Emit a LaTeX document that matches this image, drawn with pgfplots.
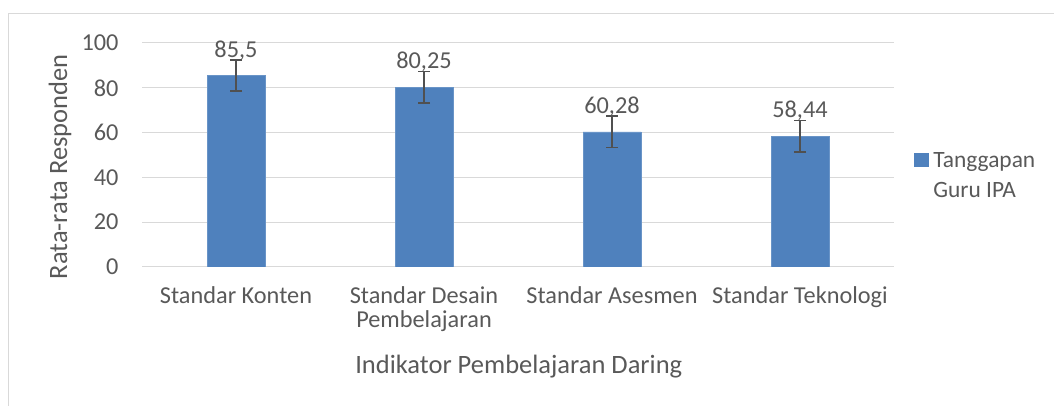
\documentclass[border=0pt]{standalone}
\usepackage{pgfplots}
\pgfplotsset{compat=1.18}
\usepackage{fontspec}
\setmainfont{Carlito}
\definecolor{barblue}{HTML}{4F81BD}
\definecolor{txt}{HTML}{595959}
\definecolor{gridc}{HTML}{D9D9D9}
\definecolor{errc}{HTML}{505050}
\begin{document}
\begin{tikzpicture}
\useasboundingbox (0pt,0pt) rectangle (1054pt,406pt);
\draw[gridc, line width=1pt] (8pt,0pt) -- (8pt,392pt) -- (1054pt,392pt);
\begin{axis}[
  at={(142pt,139pt)}, anchor=south west,
  scale only axis, width=752pt, height=224pt,
  ybar, bar width=58pt,
  xmin=-0.5, xmax=3.5, ymin=0, ymax=100,
  xtick={0,1,2,3},
  xticklabels={Standar Konten,{Standar Desain\\Pembelajaran},Standar Asesmen,Standar Teknologi},
  ytick={0,20,40,60,80,100},
  ymajorgrids, grid style={gridc, line width=1pt},
  axis x line*=bottom, axis y line*=left,
  x axis line style={gridc, line width=1pt, -},
  y axis line style={draw=none},
  major tick length=0pt,
  tick style={draw=none},
  font=\fontsize{24.3}{24}\selectfont,
  every tick label/.append style={text=txt, font=\fontsize{24.3}{24}\selectfont},
  xticklabel style={align=center, anchor=north, yshift=-16pt},
  yticklabel style={anchor=east, xshift=-20pt},
  /pgf/number format/assume math mode=true,
  xlabel={Indikator Pembelajaran Daring},
  ylabel={Rata-rata Responden},
  every axis x label/.style={at={(axis description cs:0.501,-0.446)}, anchor=center, text=txt, font=\fontsize{26.5}{30}\selectfont},
  every axis y label/.style={at={(axis description cs:-0.109,0.447)}, anchor=center, rotate=90, text=txt, font=\fontsize{26.5}{30}\selectfont},
  nodes near coords,
  point meta=explicit symbolic,
  every node near coord/.append style={text=txt, anchor=center, yshift=25pt, font=\fontsize{24.3}{27}\selectfont},
  legend style={at={(1.0223,0.555)}, anchor=north west, draw=none, fill=none, text=txt, font=\fontsize{23.4}{30}\selectfont},
  legend image code/.code={\fill[barblue] (0pt,-8pt) rectangle (14pt,5pt); \path (17pt,0pt);},
]
\addplot[fill=barblue, draw=barblue!85!white,
  error bars/.cd, y dir=both, y explicit,
  error bar style={errc, line width=1.6pt},
  error mark options={errc, line width=1.6pt, mark size=6pt, rotate=90}]
  coordinates {
  (0,85.5) +- (0,7) [85,5]
  (1,80.25) +- (0,7) [80,25]
  (2,60.28) +- (0,7) [60,28]
  (3,58.44) +- (0,7) [58,44]
};
\addlegendentry{\begin{tabular}[t]{@{}l@{}}Tanggapan\\Guru IPA\end{tabular}}
\end{axis}
\end{tikzpicture}
\end{document}
